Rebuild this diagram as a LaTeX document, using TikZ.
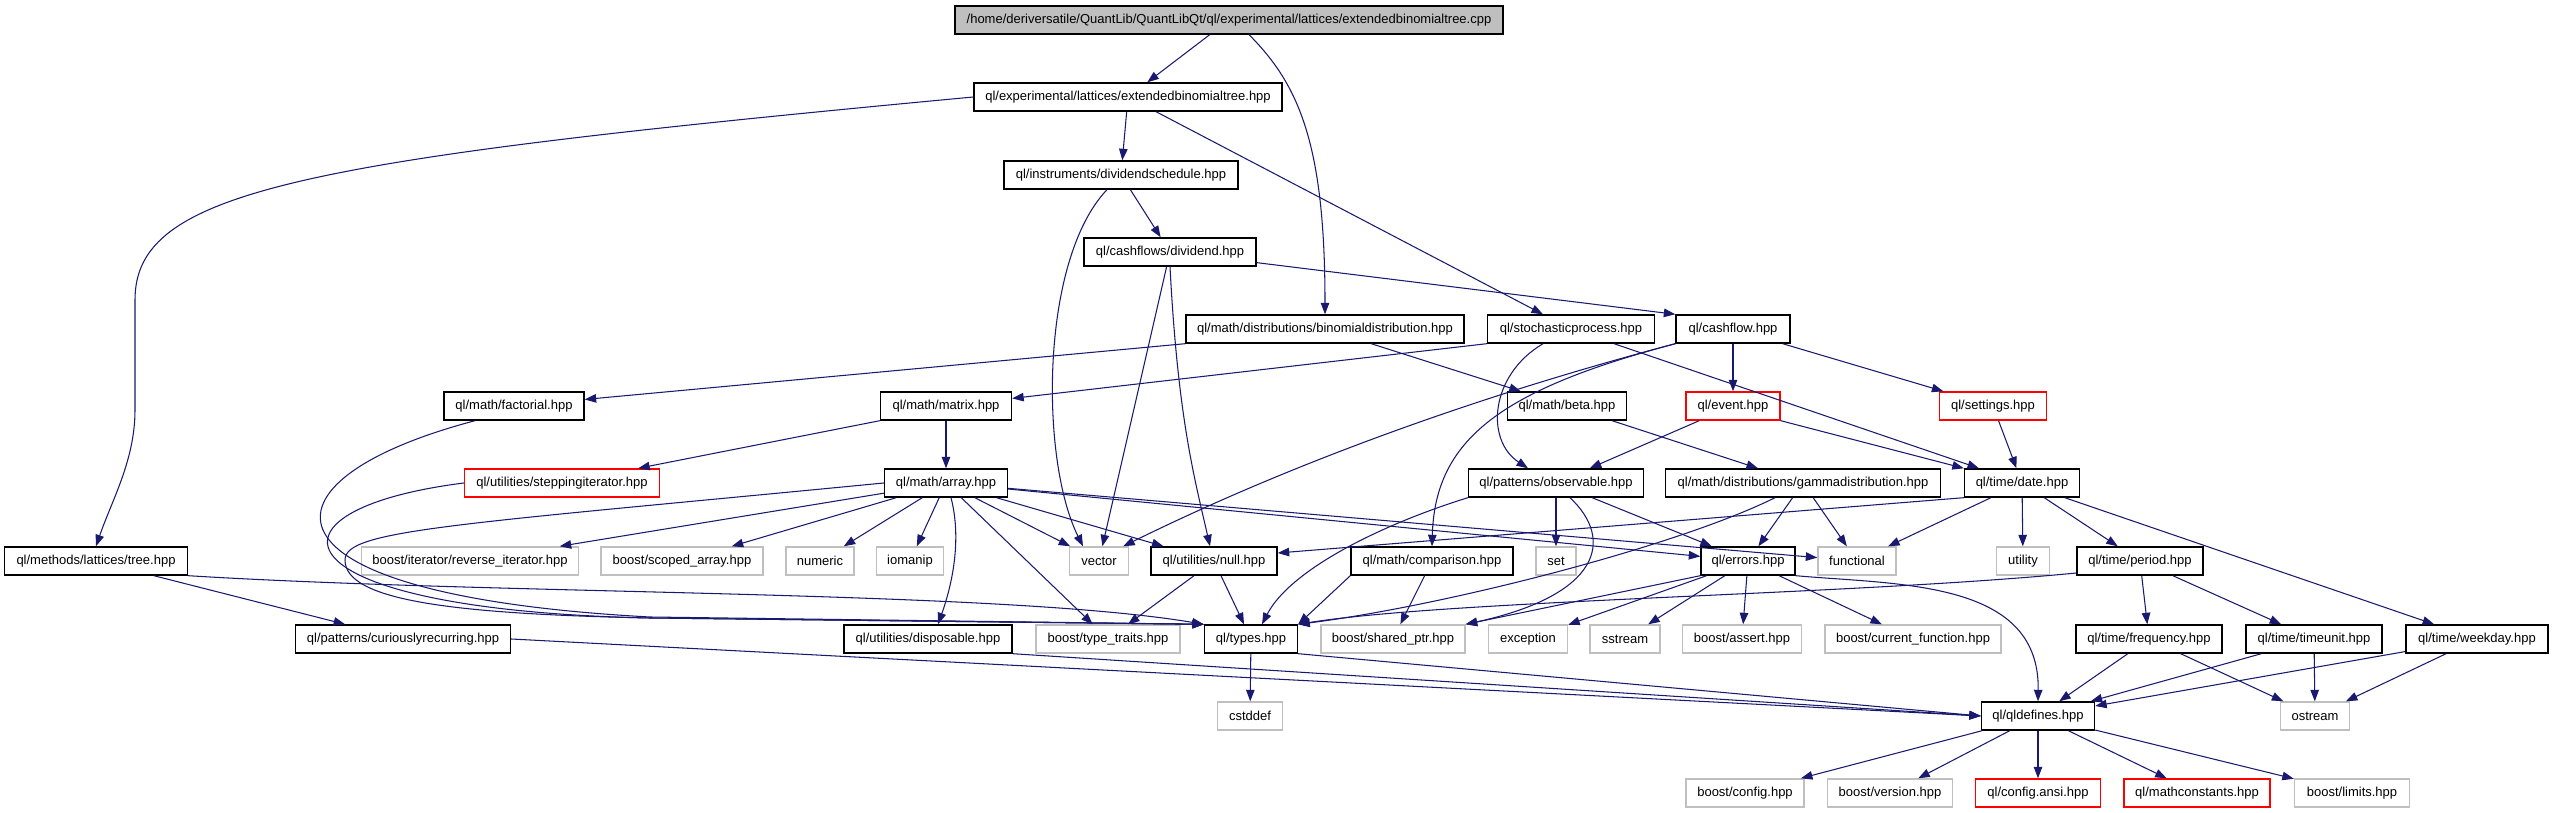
\documentclass[tikz,border=0pt]{standalone}
\usepackage{fontspec}
\setmainfont{Liberation Sans}
\usetikzlibrary{arrows.meta,calc}
\definecolor{edgeblue}{RGB}{25,25,112}
\definecolor{sysgray}{RGB}{191,191,191}

\begin{document}
\begin{tikzpicture}[
    x=0.02cm, y=-0.02cm,
    font=\fontsize{7.4}{9}\selectfont,
    box/.style={draw, line width=0.8pt, minimum height=0.56cm, inner sep=1pt},
    sysbox/.style={box, draw=sysgray},
    truncbox/.style={box, draw=red},
    mainbox/.style={box, fill=sysgray},
    arrow/.style={-{Triangle[length=2.3mm,width=1.7mm]}, draw=edgeblue, line width=0.6pt}
]
\useasboundingbox (0,0) rectangle (2553,813);

\node[mainbox, minimum width=10.96cm] (cpp) at (1229,20) {/home/deriversatile/QuantLib/QuantLibQt/ql/experimental/lattices/extendedbinomialtree.cpp};

\node[box, minimum width=6.16cm] (ebt) at (1128,97) {ql/experimental/lattices/extendedbinomialtree.hpp};
\node[box, minimum width=4.68cm] (divsched) at (1121,175) {ql/instruments/dividendschedule.hpp};
\node[box, minimum width=3.44cm] (dividend) at (1170,252) {ql/cashflows/dividend.hpp};

\node[box, minimum width=5.56cm] (binom) at (1325,329) {ql/math/distributions/binomialdistribution.hpp};
\node[box, minimum width=3.34cm] (stoch) at (1571,329) {ql/stochasticprocess.hpp};
\node[box, minimum width=2.28cm] (cashflow) at (1733,329) {ql/cashflow.hpp};

\node[box, minimum width=2.80cm] (factorial) at (514,406) {ql/math/factorial.hpp};
\node[box, minimum width=2.62cm] (matrix) at (946,406) {ql/math/matrix.hpp};
\node[box, minimum width=2.38cm] (beta) at (1567,406) {ql/math/beta.hpp};
\node[truncbox, minimum width=1.88cm] (event) at (1733,406) {ql/event.hpp};
\node[truncbox, minimum width=2.14cm] (settings) at (1993,406) {ql/settings.hpp};

\node[truncbox, minimum width=3.90cm] (stepiter) at (562,483) {ql/utilities/steppingiterator.hpp};
\node[box, minimum width=2.46cm] (array) at (946,483) {ql/math/array.hpp};
\node[box, minimum width=3.50cm] (observ) at (1556,483) {ql/patterns/observable.hpp};
\node[box, minimum width=5.50cm] (gamma) at (1803,483) {ql/math/distributions/gammadistribution.hpp};
\node[box, minimum width=2.30cm] (date) at (2022,483) {ql/time/date.hpp};

\node[box, minimum width=3.66cm] (tree) at (96,561) {ql/methods/lattices/tree.hpp};
\node[sysbox, minimum width=4.34cm] (revit) at (470,561) {boost/iterator/reverse\_iterator.hpp};
\node[sysbox, minimum width=3.24cm] (scoped) at (682,561) {boost/scoped\_array.hpp};
\node[sysbox, minimum width=1.36cm] (numeric) at (820,561) {numeric};
\node[sysbox, minimum width=1.34cm] (iomanip) at (910,561) {iomanip};
\node[sysbox, minimum width=1.18cm] (vector) at (1099,561) {vector};
\node[box, minimum width=2.52cm] (null) at (1214,561) {ql/utilities/null.hpp};
\node[box, minimum width=3.24cm] (compar) at (1432,561) {ql/math/comparison.hpp};
\node[sysbox, minimum width=0.80cm] (set) at (1556,561) {set};
\node[box, minimum width=1.88cm] (errors) at (1748,561) {ql/errors.hpp};
\node[sysbox, minimum width=1.56cm] (functional) at (1857,561) {functional};
\node[sysbox, minimum width=1.06cm] (utility) at (2023,561) {utility};
\node[box, minimum width=2.52cm] (period) at (2140,561) {ql/time/period.hpp};

\node[box, minimum width=4.30cm] (curious) at (403,639) {ql/patterns/curiouslyrecurring.hpp};
\node[box, minimum width=3.36cm] (dispos) at (928,639) {ql/utilities/disposable.hpp};
\node[sysbox, minimum width=2.88cm] (typetr) at (1108,639) {boost/type\_traits.hpp};
\node[box, minimum width=1.86cm] (types) at (1251,639) {ql/types.hpp};
\node[sysbox, minimum width=2.88cm] (sharedptr) at (1393,639) {boost/shared\_ptr.hpp};
\node[sysbox, minimum width=1.58cm] (exception) at (1528,639) {exception};
\node[sysbox, minimum width=1.40cm] (sstream) at (1625,639) {sstream};
\node[sysbox, minimum width=2.38cm] (assert) at (1742,639) {boost/assert.hpp};
\node[sysbox, minimum width=3.52cm] (curfunc) at (1913,639) {boost/current\_function.hpp};
\node[box, minimum width=2.92cm] (freq) at (2149,639) {ql/time/frequency.hpp};
\node[box, minimum width=2.72cm] (timeunit) at (2314,639) {ql/time/timeunit.hpp};
\node[box, minimum width=2.84cm] (weekday) at (2477,639) {ql/time/weekday.hpp};

\node[sysbox, minimum width=1.30cm] (cstddef) at (1250,716) {cstddef};
\node[box, minimum width=2.26cm] (qldef) at (2038,716) {ql/qldefines.hpp};
\node[sysbox, minimum width=1.38cm] (ostream) at (2315,716) {ostream};

\node[sysbox, minimum width=2.36cm] (bconfig) at (1745,793) {boost/config.hpp};
\node[sysbox, minimum width=2.50cm] (bversion) at (1890,793) {boost/version.hpp};
\node[truncbox, minimum width=2.50cm] (cfgansi) at (2038,793) {ql/config.ansi.hpp};
\node[truncbox, minimum width=2.92cm] (mathconst) at (2197,793) {ql/mathconstants.hpp};
\node[sysbox, minimum width=2.30cm] (blimits) at (2352,793) {boost/limits.hpp};

\draw[arrow] (cpp) -- (ebt);
\draw[arrow] ($(cpp.south)+(20,0)$) .. controls +(50,50) and +(0,-170) .. (binom.north);
\draw[arrow] (ebt.west) .. controls (300,160) and (135,190) .. (135,300) -- (135,410) .. controls (135,460) and (112,500) .. (tree.north);
\draw[arrow] (ebt) -- (divsched);
\draw[arrow] (ebt) -- (stoch);
\draw[arrow] (divsched) -- (dividend);
\draw[arrow] ($(divsched.south)+(-14,0)$) .. controls (1040,260) and (1040,460) .. ($(vector.north)+(-16,0)$);
\draw[arrow] (dividend) -- (cashflow.north west);
\draw[arrow] (dividend) -- (vector);
\draw[arrow] (dividend.south) .. controls (1178,420) and (1195,480) .. ($(null.north)+(-4,0)$);
\draw[arrow] (binom.south west) -- (factorial);
\draw[arrow] (binom) -- (beta);
\draw[arrow] (stoch.south west) -- (matrix);
\draw[arrow] ($(stoch.south)+(-28,0)$) .. controls (1490,375) and (1485,440) .. ($(observ.north)+(-28,0)$);
\draw[arrow] (stoch) -- (date);
\draw[arrow] (cashflow) -- (event);
\draw[arrow] (cashflow) -- (settings);
\draw[arrow] (cashflow.south west) .. controls (1466,399) and (1282,468) .. ($(vector.north east)+(-6,0)$);
\draw[arrow] (cashflow.south west) .. controls (1500,390) and (1435,440) .. (compar.north);
\draw[arrow] (event) -- (observ);
\draw[arrow] (event.south east) -- (date.north west);
\draw[arrow] (settings) -- (date);
\draw[arrow] (beta) -- (gamma);
\draw[arrow] (factorial.south) ++(-39,0) .. controls (250,480) and (240,595) .. (650,617) -- (types.north west);
\draw[arrow] (matrix.south west) -- ($(stepiter.north east)+(-22,0)$);
\draw[arrow] (matrix) -- (array);
\draw[arrow] (stepiter.west) .. controls (250,510) and (270,610) .. (650,618) -- (types.north west);
\draw[arrow] (array.west) .. controls (450,525) and (345,530) .. (345,560) .. controls (345,600) and (450,614) .. (650,618) -- (types.north west);
\draw[arrow] (array) -- (revit);
\draw[arrow] (array) -- (scoped);
\draw[arrow] (array) -- (numeric);
\draw[arrow] (array) -- (iomanip);
\draw[arrow] ($(array.south)+(5,0)$) .. controls (962,540) and (952,585) .. ($(dispos.north)+(10,0)$);
\draw[arrow] (array) -- (typetr);
\draw[arrow] (array) -- (vector);
\draw[arrow] (array) -- (null);
\draw[arrow] (array) -- (errors);
\draw[arrow] (array) -- (functional);
\draw[arrow] (observ) -- (set);
\draw[arrow] (observ) -- (errors);
\draw[arrow] (observ.south west) .. controls (1380,525) and (1290,570) .. ($(types.north)+(11,0)$);
\draw[arrow] ($(observ.south)+(14,0)$) .. controls (1615,540) and (1600,595) .. (sharedptr.north east);
\draw[arrow] (gamma) -- (errors);
\draw[arrow] (gamma) -- (functional);
\draw[arrow] ($(gamma.south)+(-28,0)$) .. controls (1680,545) and (1450,605) .. (types.north east);
\draw[arrow] (date.south west) -- ($(null.east)+(0,-8)$);
\draw[arrow] (date) -- (functional);
\draw[arrow] (date) -- (utility);
\draw[arrow] (date) -- (period);
\draw[arrow] (date) -- (weekday);
\draw[arrow] (tree.south east) .. controls (500,595) and (1000,590) .. (types.north west);
\draw[arrow] (tree) -- (curious);
\draw[arrow] (null) -- (typetr);
\draw[arrow] (null) -- (types);
\draw[arrow] (compar.south west) -- (types.north east);
\draw[arrow] (compar) -- (sharedptr);
\draw[arrow] (errors.south west) -- (sharedptr.north east);
\draw[arrow] (errors) -- (exception);
\draw[arrow] (errors) -- (sstream);
\draw[arrow] (errors) -- (assert);
\draw[arrow] (errors) -- (curfunc);
\draw[arrow] (errors.south east) .. controls (1900,585) and (2040,580) .. (qldef.north);
\draw[arrow] ($(period.west)+(0,12)$) .. controls (1850,595) and (1450,600) .. (types.north east);
\draw[arrow] (period) -- (freq);
\draw[arrow] (period) -- (timeunit);
\draw[arrow] (curious.east) -- (qldef.west);
\draw[arrow] (dispos.south east) -- (qldef.west);
\draw[arrow] (types.south east) -- (qldef.west);
\draw[arrow] (types) -- (cstddef);
\draw[arrow] (freq) -- (qldef);
\draw[arrow] (freq) -- (ostream);
\draw[arrow] (timeunit) -- (qldef);
\draw[arrow] (timeunit) -- (ostream);
\draw[arrow] (weekday) -- (qldef);
\draw[arrow] (weekday) -- (ostream);
\draw[arrow] (qldef) -- (bconfig);
\draw[arrow] (qldef) -- (bversion);
\draw[arrow] (qldef) -- (cfgansi);
\draw[arrow] (qldef) -- (mathconst);
\draw[arrow] (qldef) -- (blimits);

\end{tikzpicture}
\end{document}
